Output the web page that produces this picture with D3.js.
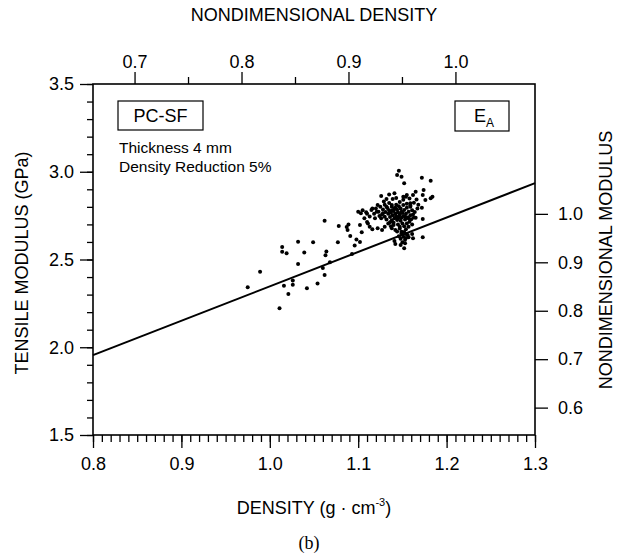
<!DOCTYPE html>
<html>
<head>
<meta charset="utf-8">
<script src="https://cdn.jsdelivr.net/npm/d3@7"></script>
<style>
body { margin: 0; background: #fff; }
svg text { font-family: "Liberation Sans", Arial, sans-serif; fill: #000; }
.axis path.domain { display: none; }
.axis line { stroke: #000; stroke-width: 1.3; }
.axis text { font-size: 18px; }
</style>
</head>
<body>
<div id="chart"></div>
<script>
// measured points, density (g/cm3) and tensile modulus (GPa)
var densityData = [
  0.975,0.989,1.011,1.014,1.014,1.019,1.016,1.021,1.026,1.026,1.032,1.049,1.039,1.032,1.042,1.054,
  1.062,1.060,1.064,1.063,1.068,1.062,1.077,1.078,1.087,1.089,1.088,1.091,1.096,1.098,1.102,1.093,
  1.102,1.104,1.100,1.103,1.109,1.110,1.115,1.116,1.121,1.122,1.127,1.128,1.119,1.132,1.138,1.141,
  1.142,1.148,1.152,1.162,1.173,1.173,1.172,1.176,1.173,1.182,1.162,1.154,1.159,1.163,1.149,1.154,
  1.147,1.138,1.152,1.182,1.126,1.141,1.146,1.144,1.149,1.135,1.151,1.157,1.113,1.130,1.172,1.155,
  1.165,1.174,1.184,1.151,1.159,1.161,1.153,
  1.120,1.123,1.125,1.127,1.128,1.130,1.130,1.131,1.132,1.133,1.134,1.134,1.135,1.135,1.136,1.137,
  1.137,1.138,1.138,1.139,1.139,1.140,1.140,1.141,1.141,1.142,1.142,1.143,1.143,1.144,1.144,1.145,
  1.145,1.146,1.146,1.147,1.147,1.148,1.148,1.149,1.149,1.150,1.150,1.151,1.151,1.152,1.152,1.153,
  1.153,1.154,1.154,1.155,1.155,1.156,1.156,1.157,1.157,1.158,1.159,1.159,1.160,1.161,1.161,1.162,
  1.163,1.164,1.165,1.166,1.167,1.168,1.129,1.132,1.136,1.140,1.144,1.146,1.148,1.150,1.152,1.154,
  1.143,1.147,1.151,1.155,1.158,1.139,1.142,1.145,1.149,1.153,1.157,1.126,1.124,1.122,1.118,1.116,
  1.113,1.110,1.107,1.105,1.111
];
var modulusData = [
  2.342,2.430,2.222,2.571,2.544,2.535,2.351,2.303,2.381,2.356,2.601,2.598,2.540,2.474,2.336,2.363,
  2.412,2.452,2.546,2.524,2.484,2.721,2.598,2.691,2.685,2.699,2.668,2.634,2.580,2.614,2.600,2.531,
  2.697,2.655,2.772,2.763,2.769,2.714,2.782,2.672,2.772,2.678,2.668,2.763,2.735,2.801,2.811,2.605,
  2.588,2.583,2.564,2.621,2.627,2.731,2.795,2.839,2.868,2.849,2.868,2.858,2.820,2.740,2.658,2.645,
  2.687,2.678,2.934,2.949,2.862,2.877,3.006,2.981,2.972,2.871,2.858,2.627,2.687,2.687,2.966,2.868,
  2.886,2.896,2.858,2.811,2.801,2.645,2.592,
  2.790,2.772,2.801,2.756,2.785,2.812,2.744,2.770,2.728,2.793,2.760,2.705,2.822,2.781,2.742,2.766,
  2.690,2.801,2.724,2.752,2.845,2.776,2.710,2.789,2.735,2.760,2.668,2.812,2.747,2.725,2.783,2.700,
  2.769,2.742,2.804,2.756,2.676,2.721,2.790,2.738,2.650,2.767,2.705,2.748,2.630,2.782,2.690,2.728,
  2.612,2.760,2.672,2.705,2.795,2.740,2.640,2.772,2.686,2.715,2.752,2.808,2.730,2.780,2.700,2.756,
  2.823,2.770,2.738,2.842,2.790,2.812,2.830,2.845,2.712,2.696,2.660,2.632,2.618,2.598,2.656,2.622,
  2.850,2.828,2.840,2.818,2.848,2.780,2.795,2.735,2.772,2.745,2.735,2.735,2.748,2.810,2.760,2.790,
  2.745,2.760,2.735,2.780,2.705
];

// fitted line ends
var fitDensity = [0.8, 1.3];
var fitModulus = [1.955, 2.935];

// reference values for the nondimensional axes
var refDensity = 1.21;
var refModulus = 2.76;

var xTicks = [0.8, 0.9, 1.0, 1.1, 1.2, 1.3];
var yTicks = [1.5, 2.0, 2.5, 3.0, 3.5];
var topTicks = [0.7, 0.8, 0.9, 1.0];
var topMinor = [0.75, 0.85, 0.95];
var rightTicks = [0.6, 0.7, 0.8, 0.9, 1.0];

var margin = {top: 84, right: 85, bottom: 124, left: 93};
var width = 620 - margin.left - margin.right;   // 442
var height = 559 - margin.top - margin.bottom;  // 351

var svg = d3.select("#chart").append("svg")
    .attr("width", 620)
    .attr("height", 559)
    .style("background", "#fff");

var g = svg.append("g")
    .attr("transform", "translate(" + margin.left + "," + margin.top + ")");

var x = d3.scaleLinear().domain([0.8, 1.3]).range([0, width]),
    y = d3.scaleLinear().domain([1.5, 3.5]).range([height, 0]),
    xTop = d3.scaleLinear().domain([0.8 / refDensity, 1.3 / refDensity]).range([0, width]),
    yRight = d3.scaleLinear().domain([1.5 / refModulus, 3.5 / refModulus]).range([height, 0]);

var f1 = d3.format(".1f");

// bottom axis, minor ticks every 0.01
g.append("g")
    .attr("class", "axis")
    .attr("transform", "translate(0," + height + ")")
    .call(d3.axisBottom(x).tickValues(d3.range(80, 131).map(function(d) { return d / 100; }))
      .tickSize(7).tickFormat(""));
g.append("g")
    .attr("class", "axis")
    .attr("transform", "translate(0," + height + ")")
    .call(d3.axisBottom(x).tickValues(xTicks).tickSize(13).tickPadding(9).tickFormat(f1));

// left axis
g.append("g")
    .attr("class", "axis")
    .call(d3.axisLeft(y).tickValues(d3.range(15, 36).map(function(d) { return d / 10; }))
      .tickSize(6).tickFormat(""));
g.append("g")
    .attr("class", "axis")
    .call(d3.axisLeft(y).tickValues(yTicks).tickSize(13).tickPadding(6).tickFormat(f1));

// top axis (nondimensional density)
g.append("g")
    .attr("class", "axis")
    .call(d3.axisTop(xTop).tickValues(topMinor).tickSize(7).tickFormat(""));
g.append("g")
    .attr("class", "axis")
    .call(d3.axisTop(xTop).tickValues(topTicks).tickSize(12).tickPadding(4).tickFormat(f1));

// right axis (nondimensional modulus)
g.append("g")
    .attr("class", "axis")
    .attr("transform", "translate(" + width + ",0)")
    .call(d3.axisRight(yRight).tickValues(rightTicks).tickSize(13).tickPadding(10).tickFormat(f1));

// frame
g.append("rect")
    .attr("width", width)
    .attr("height", height)
    .style("fill", "none")
    .style("stroke", "#000")
    .style("stroke-width", 1.6);

// fitted line
var fitLine = d3.line()
    .x(function(d) { return x(d[0]); })
    .y(function(d) { return y(d[1]); });
g.append("path")
    .datum(d3.zip(fitDensity, fitModulus))
    .style("fill", "none")
    .style("stroke", "#000")
    .style("stroke-width", 2)
    .attr("d", fitLine);

// scatter
g.selectAll("circle.pt")
    .data(d3.zip(densityData, modulusData))
    .enter().append("circle")
    .attr("class", "pt")
    .attr("cx", function(d) { return x(d[0]); })
    .attr("cy", function(d) { return y(d[1]); })
    .attr("r", 2)
    .style("fill", "#000");

// boxes in the plot
svg.append("rect")
    .attr("x", 118).attr("y", 101).attr("width", 85).attr("height", 29)
    .style("fill", "#fff").style("stroke", "#000").style("stroke-width", 1.2);
svg.append("text")
    .attr("x", 160.5).attr("y", 122)
    .attr("text-anchor", "middle")
    .style("font-size", "18px")
    .text("PC-SF");

svg.append("rect")
    .attr("x", 455).attr("y", 101).attr("width", 54).attr("height", 30)
    .style("fill", "#fff").style("stroke", "#000").style("stroke-width", 1.2);
var ea = svg.append("text")
    .attr("x", 474).attr("y", 122)
    .style("font-size", "18px");
ea.append("tspan").text("E");
ea.append("tspan").attr("dy", 5).style("font-size", "12px").text("A");

svg.append("text")
    .attr("x", 119).attr("y", 153)
    .style("font-size", "15.5px")
    .text("Thickness 4 mm");
svg.append("text")
    .attr("x", 119).attr("y", 172)
    .style("font-size", "15.5px")
    .text("Density Reduction 5%");

// axis titles
svg.append("text")
    .attr("x", 314).attr("y", 21)
    .attr("text-anchor", "middle")
    .style("font-size", "18px")
    .text("NONDIMENSIONAL DENSITY");

svg.append("text")
    .attr("transform", "translate(28,263) rotate(-90)")
    .attr("text-anchor", "middle")
    .style("font-size", "18px")
    .text("TENSILE MODULUS (GPa)");

svg.append("text")
    .attr("transform", "translate(612,260) rotate(-90)")
    .attr("text-anchor", "middle")
    .style("font-size", "18px")
    .text("NONDIMENSIONAL MODULUS");

var xt = svg.append("text")
    .attr("x", 314).attr("y", 514)
    .attr("text-anchor", "middle")
    .style("font-size", "18px");
xt.append("tspan").text("DENSITY (g \u00b7 cm");
xt.append("tspan").attr("dy", -8).style("font-size", "11px").text("-3");
xt.append("tspan").attr("dy", 8).text(")");

svg.append("text")
    .attr("x", 309).attr("y", 549)
    .attr("text-anchor", "middle")
    .style("font-family", "'Liberation Serif', 'Times New Roman', serif")
    .style("font-size", "18px")
    .text("(b)");
</script>
</body>
</html>
